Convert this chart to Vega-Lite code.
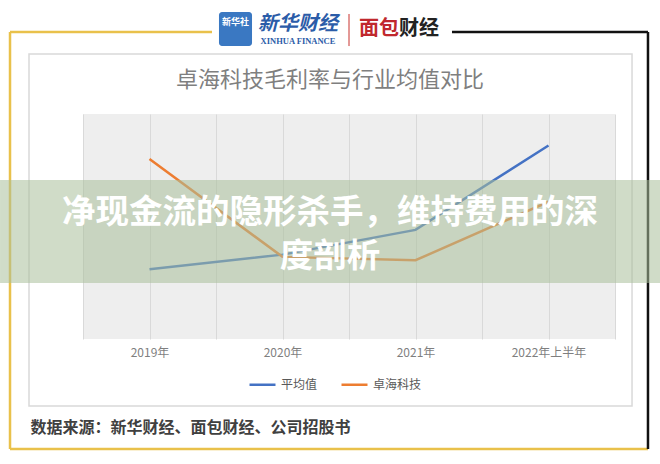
{
  "$schema": "https://vega.github.io/schema/vega-lite/v6.json",
  "width": 532,
  "height": 225,
  "autosize": {"type": "none"},
  "padding": {"left": 83, "top": 114, "right": 45, "bottom": 125},
  "background": "#ffffff",
  "data": {"values": [{}]},
  "layer": [
    {
      "mark": {"type": "rect", "filled": false, "stroke": "#d9d9d9", "strokeWidth": 1.5, "clip": false},
      "encoding": {
        "x": {"datum": -0.1015, "type": "quantitative", "scale": {"domain": [0, 1]},
          "axis": {"values": [0, 0.125, 0.25, 0.375, 0.5, 0.625, 0.75, 0.875, 1], "grid": true, "gridColor": "#d9d9d9", "labels": false, "ticks": false, "domain": false, "title": null, "orient": "top"}},
        "x2": {"datum": 1.032},
        "y": {"datum": 0.8133, "type": "quantitative", "scale": {"domain": [0.56, 0.76]}, "axis": null},
        "y2": {"datum": 0.5004}
      }
    },
    {
      "mark": {"type": "rule", "stroke": "#e9c14b", "strokeWidth": 2.5, "clip": false},
      "encoding": {
        "x": {"datum": -0.1372, "type": "quantitative", "scale": {"domain": [0, 1]}, "axis": null},
        "x2": {"datum": 0.2425},
        "y": {"datum": 0.8329, "type": "quantitative", "scale": {"domain": [0.56, 0.76]}, "axis": null}
      }
    },
    {
      "mark": {"type": "rule", "stroke": "#e9c14b", "strokeWidth": 2.5, "clip": false},
      "encoding": {
        "x": {"datum": -0.1372, "type": "quantitative", "scale": {"domain": [0, 1]}, "axis": null},
        "y": {"datum": 0.8329, "type": "quantitative", "scale": {"domain": [0.56, 0.76]}, "axis": null},
        "y2": {"datum": 0.4622}
      }
    },
    {
      "mark": {"type": "rule", "stroke": "#e9c14b", "strokeWidth": 2.5, "clip": false},
      "encoding": {
        "x": {"datum": -0.1372, "type": "quantitative", "scale": {"domain": [0, 1]}, "axis": null},
        "x2": {"datum": 1.062},
        "y": {"datum": 0.4622, "type": "quantitative", "scale": {"domain": [0.56, 0.76]}, "axis": null}
      }
    },
    {
      "mark": {"type": "rule", "stroke": "#111111", "strokeWidth": 2.5, "clip": false},
      "encoding": {
        "x": {"datum": 0.6936, "type": "quantitative", "scale": {"domain": [0, 1]}, "axis": null},
        "x2": {"datum": 1.062},
        "y": {"datum": 0.8329, "type": "quantitative", "scale": {"domain": [0.56, 0.76]}, "axis": null}
      }
    },
    {
      "mark": {"type": "rule", "stroke": "#111111", "strokeWidth": 2.5, "clip": false},
      "encoding": {
        "x": {"datum": 1.062, "type": "quantitative", "scale": {"domain": [0, 1]}, "axis": null},
        "y": {"datum": 0.8329, "type": "quantitative", "scale": {"domain": [0.56, 0.76]}, "axis": null},
        "y2": {"datum": 0.4622}
      }
    },
    {
      "mark": {"type": "rect", "fill": "#3a78c2", "cornerRadius": 3, "clip": false},
      "encoding": {
        "x": {"datum": 0.2556, "type": "quantitative", "scale": {"domain": [0, 1]}, "axis": null},
        "x2": {"datum": 0.3177},
        "y": {"datum": 0.8507, "type": "quantitative", "scale": {"domain": [0.56, 0.76]}, "axis": null},
        "y2": {"datum": 0.8204}
      }
    },
    {
      "mark": {"type": "text", "text": "新华社", "fontSize": 9, "fontWeight": "bold", "color": "#ffffff", "font": "Noto Sans CJK SC", "align": "center", "baseline": "middle", "clip": false},
      "encoding": {
        "x": {"datum": 0.2867, "type": "quantitative", "scale": {"domain": [0, 1]}, "axis": null},
        "y": {"datum": 0.8418, "type": "quantitative", "scale": {"domain": [0.56, 0.76]}, "axis": null}
      }
    },
    {
      "mark": {"type": "text", "text": "新华财经", "fontSize": 20, "fontWeight": "bold", "fontStyle": "italic", "color": "#2b5ca8", "font": "Noto Sans CJK SC", "align": "center", "baseline": "middle", "clip": false},
      "encoding": {
        "x": {"datum": 0.4041, "type": "quantitative", "scale": {"domain": [0, 1]}, "axis": null},
        "y": {"datum": 0.84, "type": "quantitative", "scale": {"domain": [0.56, 0.76]}, "axis": null}
      }
    },
    {
      "mark": {"type": "text", "text": "XINHUA FINANCE", "fontSize": 8.5, "fontWeight": "bold", "color": "#2b5ca8", "font": "Liberation Serif", "align": "center", "baseline": "middle", "clip": false},
      "encoding": {
        "x": {"datum": 0.4041, "type": "quantitative", "scale": {"domain": [0, 1]}, "axis": null},
        "y": {"datum": 0.8249, "type": "quantitative", "scale": {"domain": [0.56, 0.76]}, "axis": null}
      }
    },
    {
      "mark": {"type": "rule", "stroke": "#c8322e", "strokeWidth": 1, "clip": false},
      "encoding": {
        "x": {"datum": 0.5, "type": "quantitative", "scale": {"domain": [0, 1]}, "axis": null},
        "y": {"datum": 0.8489, "type": "quantitative", "scale": {"domain": [0.56, 0.76]}, "axis": null},
        "y2": {"datum": 0.8204}
      }
    },
    {
      "mark": {"type": "text", "text": "面包", "fontSize": 20, "fontWeight": "bold", "color": "#c0282d", "font": "Noto Sans CJK SC", "align": "center", "baseline": "middle", "clip": false},
      "encoding": {
        "x": {"datum": 0.5564, "type": "quantitative", "scale": {"domain": [0, 1]}, "axis": null},
        "y": {"datum": 0.8356, "type": "quantitative", "scale": {"domain": [0.56, 0.76]}, "axis": null}
      }
    },
    {
      "mark": {"type": "text", "text": "财经", "fontSize": 20, "fontWeight": "bold", "color": "#222222", "font": "Noto Sans CJK SC", "align": "center", "baseline": "middle", "clip": false},
      "encoding": {
        "x": {"datum": 0.6316, "type": "quantitative", "scale": {"domain": [0, 1]}, "axis": null},
        "y": {"datum": 0.8356, "type": "quantitative", "scale": {"domain": [0.56, 0.76]}, "axis": null}
      }
    },
    {
      "mark": {"type": "text", "text": "卓海科技毛利率与行业均值对比", "fontSize": 22, "color": "#7f7f7f", "font": "Noto Sans CJK SC", "align": "center", "baseline": "middle", "clip": false},
      "encoding": {
        "x": {"datum": 0.4643, "type": "quantitative", "scale": {"domain": [0, 1]}, "axis": null},
        "y": {"datum": 0.7902, "type": "quantitative", "scale": {"domain": [0.56, 0.76]}, "axis": null}
      }
    },
    {
      "data": {"values": [
        {"period": "2019年", "series": "平均值", "value": 0.622},
        {"period": "2020年", "series": "平均值", "value": 0.635},
        {"period": "2021年", "series": "平均值", "value": 0.657},
        {"period": "2022年上半年", "series": "平均值", "value": 0.732},
        {"period": "2019年", "series": "卓海科技", "value": 0.72},
        {"period": "2020年", "series": "卓海科技", "value": 0.633},
        {"period": "2021年", "series": "卓海科技", "value": 0.63},
        {"period": "2022年上半年", "series": "卓海科技", "value": 0.682}
      ]},
      "mark": {"type": "line", "strokeWidth": 2.5},
      "encoding": {
        "x": {"field": "period", "type": "ordinal", "sort": ["2019年", "2020年", "2021年", "2022年上半年"],
          "axis": {"labelAngle": 0, "labelFontSize": 12, "labelColor": "#7f7f7f", "labelFont": "Noto Sans CJK SC", "ticks": false, "domain": false, "grid": false, "labelPadding": 8,
            "title": "数据来源：新华财经、面包财经、公司招股书", "titleFont": "Noto Sans CJK SC", "titleFontSize": 16, "titleFontWeight": "bold", "titleColor": "#404040", "titleAnchor": "start", "titleAlign": "left", "titleBaseline": "middle", "titleX": -53, "titleY": 88}},
        "y": {"field": "value", "type": "quantitative", "scale": {"domain": [0.56, 0.76]},
          "axis": {"values": [0.56, 0.58, 0.6, 0.62, 0.64, 0.66, 0.68, 0.7, 0.72, 0.74, 0.76], "format": ".2%", "labelFontSize": 11, "labelColor": "#7f7f7f", "labelFont": "Liberation Sans", "ticks": false, "domain": false, "grid": true, "gridColor": "#d9d9d9", "labelPadding": 6, "title": null}},
        "color": {"field": "series", "type": "nominal", "scale": {"domain": ["平均值", "卓海科技"], "range": ["#4472c4", "#ed7d31"]},
          "legend": {"orient": "none", "legendX": 165, "legendY": 256, "direction": "horizontal", "title": null, "symbolType": "stroke", "symbolSize": 676, "symbolStrokeWidth": 2.5, "labelFontSize": 12, "labelColor": "#595959", "labelFont": "Noto Sans CJK SC", "columnPadding": 18}}
      }
    },
    {
      "mark": {"type": "rect", "fill": "#a9c09a", "opacity": 0.55, "clip": false},
      "encoding": {
        "x": {"datum": -0.156, "type": "quantitative", "scale": {"domain": [0, 1]}, "axis": null},
        "x2": {"datum": 1.0846},
        "y": {"datum": 0.7013, "type": "quantitative", "scale": {"domain": [0.56, 0.76]}, "axis": null},
        "y2": {"datum": 0.6098}
      }
    },
    {
      "mark": {"type": "text", "text": ["净现金流的隐形杀手，维持费用的深", "度剖析"], "fontSize": 33.5, "fontWeight": "bold", "color": "#ffffff", "font": "Noto Sans CJK SC", "align": "center", "baseline": "middle", "lineHeight": 44, "clip": false},
      "encoding": {
        "x": {"datum": 0.4643, "type": "quantitative", "scale": {"domain": [0, 1]}, "axis": null},
        "y": {"datum": 0.672, "type": "quantitative", "scale": {"domain": [0.56, 0.76]}, "axis": null}
      }
    }
  ],
  "resolve": {"scale": {"x": "independent"}},
  "config": {
    "view": {"fill": "#eeeeee", "stroke": null},
    "font": "Noto Sans CJK SC"
  }
}
